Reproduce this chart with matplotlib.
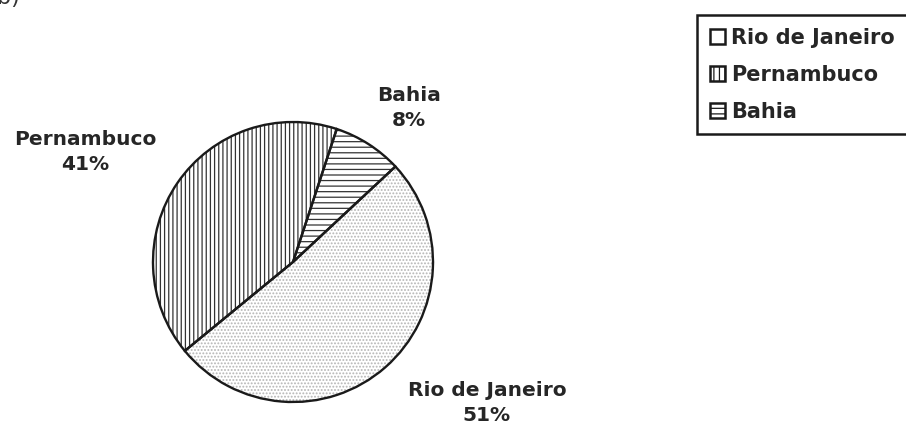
import matplotlib.pyplot as plt

plt.rcParams['font.family'] = ['DejaVu Sans']
plt.rcParams['hatch.linewidth'] = 0.9

states = ['Rio de Janeiro', 'Pernambuco', 'Bahia']
shares = [51, 41, 8]
hatches = ['.....', '||||', '---']
hatch_colors = ['#b5b5b5', '#333333', '#333333']
legend_hatches = ['', '|||', '---']

fig = plt.figure(figsize=(9.06, 4.26), dpi=100)
ax = fig.add_axes([0, 0, 1, 1])

# hatched fill
wedges, _ = ax.pie(shares, center=(293, 164), radius=140, startangle=43,
                   counterclock=False, colors=['white'] * 3,
                   wedgeprops=dict(linewidth=0))
for w, h, c in zip(wedges, hatches, hatch_colors):
    w.set_hatch(h)
    w.set_edgecolor(c)

# black outlines on top
outl, _ = ax.pie(shares, center=(293, 164), radius=140, startangle=43,
                 counterclock=False,
                 wedgeprops=dict(fill=False, edgecolor='#1a1a1a', linewidth=1.7))

ax.set_xlim(0, 906)
ax.set_ylim(0, 426)
ax.set_aspect('equal')
ax.axis('off')

lab_kw = dict(ha='center', va='center', fontsize=14.5, fontweight='bold',
              color='#262626', linespacing=1.4)
ax.text(85, 274, 'Pernambuco\n41%', **lab_kw)
ax.text(409, 318, 'Bahia\n8%', **lab_kw)
ax.text(487, 23, 'Rio de Janeiro\n51%', **lab_kw)
ax.text(-3, 428, 'b)', ha='left', va='center', fontsize=16, color='#333333')

# legend handles: hatched squares with black border
handles = []
for h in legend_hatches:
    p = plt.Rectangle((0, 0), 1, 1, facecolor='white', edgecolor='#1a1a1a',
                      hatch=h, linewidth=1.8)
    handles.append(p)

leg = fig.legend(handles, states, loc='upper left',
                 bbox_to_anchor=(697 / 906, 1 - 15 / 426),
                 fancybox=False, edgecolor='#1a1a1a', framealpha=1,
                 handlelength=0.75, handleheight=0.75, handletextpad=0.3,
                 borderpad=0.6, borderaxespad=0, labelspacing=0.82,
                 prop=dict(weight='bold', size=15))
leg.get_frame().set_linewidth(1.8)
for t in leg.get_texts():
    t.set_color('#262626')

fig.savefig('out.png', dpi=100)
